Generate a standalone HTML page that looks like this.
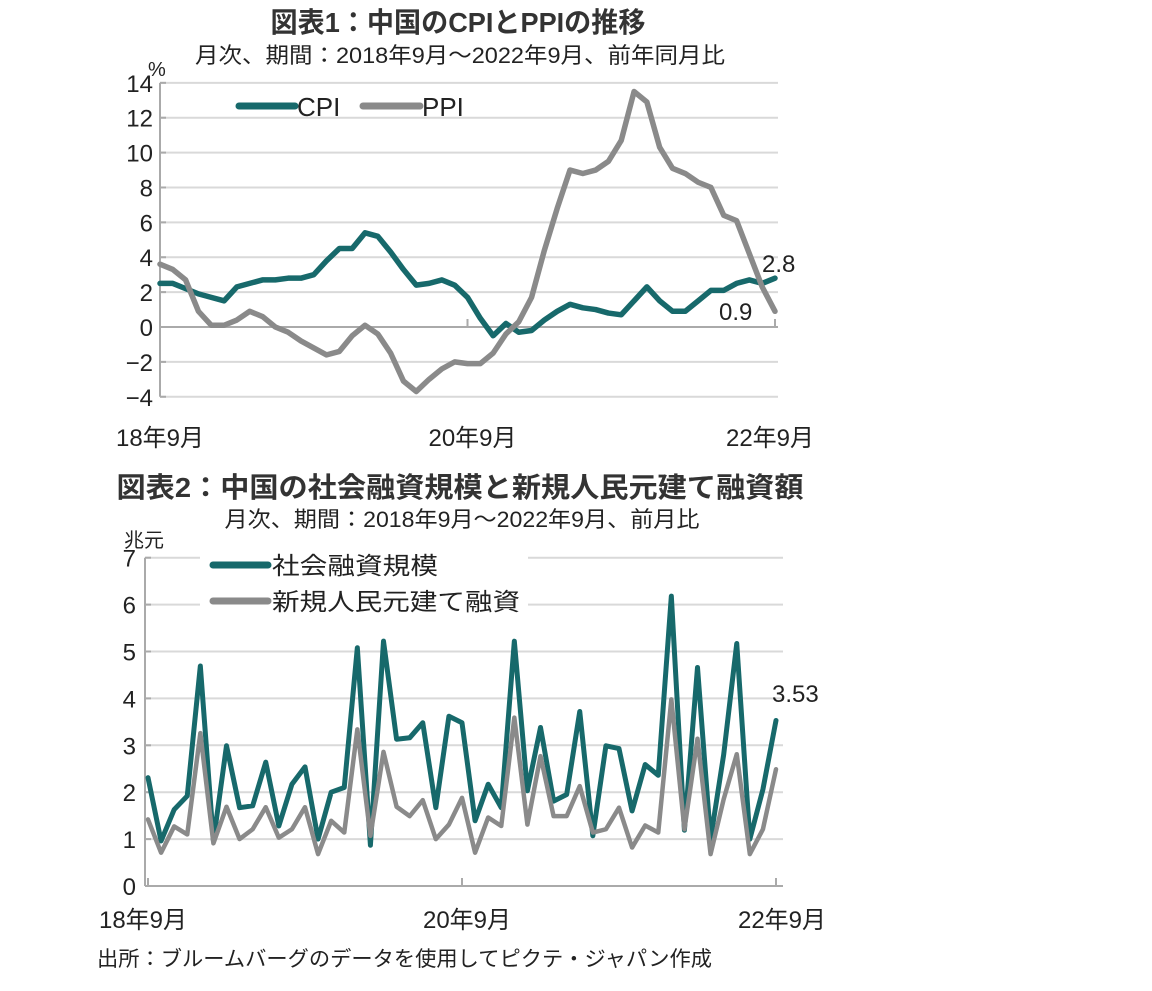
<!DOCTYPE html>
<html><head><meta charset="utf-8"><style>
html,body{margin:0;padding:0;background:#fff;}
svg{display:block;font-family:"Liberation Sans Narrow","Liberation Sans","Noto Sans CJK JP",sans-serif;}
</style></head><body>
<svg id="c" width="1152" height="991" viewBox="0 0 1152 991">
<text x="458" y="32" font-size="28" font-weight="bold" fill="#333" text-anchor="middle" textLength="375" lengthAdjust="spacingAndGlyphs">図表1：中国のCPIとPPIの推移</text>
<text x="460" y="63" font-size="22" fill="#222" text-anchor="middle" textLength="530" lengthAdjust="spacingAndGlyphs">月次、期間：2018年9月～2022年9月、前年同月比</text>
<text x="148" y="76" font-size="20" fill="#222">%</text>
<g id="g1"></g>
<text x="460" y="497" font-size="28" font-weight="bold" fill="#333" text-anchor="middle" textLength="687" lengthAdjust="spacingAndGlyphs">図表2：中国の社会融資規模と新規人民元建て融資額</text>
<text x="462" y="527" font-size="22" fill="#222" text-anchor="middle" textLength="475" lengthAdjust="spacingAndGlyphs">月次、期間：2018年9月～2022年9月、前月比</text>
<text x="124" y="547" font-size="20" fill="#222">兆元</text>
<g id="g2"></g>
<text x="97" y="966" font-size="21" fill="#222" textLength="615" lengthAdjust="spacingAndGlyphs">出所：ブルームバーグのデータを使用してピクテ・ジャパン作成</text>
</svg>
<script>
const cpi=[2.5,2.5,2.2,1.9,1.7,1.5,2.3,2.5,2.7,2.7,2.8,2.8,3.0,3.8,4.5,4.5,5.4,5.2,4.3,3.3,2.4,2.5,2.7,2.4,1.7,0.5,-0.5,0.2,-0.3,-0.2,0.4,0.9,1.3,1.1,1.0,0.8,0.7,1.5,2.3,1.5,0.9,0.9,1.5,2.1,2.1,2.5,2.7,2.5,2.8];
const ppi=[3.6,3.3,2.7,0.9,0.1,0.1,0.4,0.9,0.6,0.0,-0.3,-0.8,-1.2,-1.6,-1.4,-0.5,0.1,-0.4,-1.5,-3.1,-3.7,-3.0,-2.4,-2.0,-2.1,-2.1,-1.5,-0.4,0.3,1.7,4.4,6.8,9.0,8.8,9.0,9.5,10.7,13.5,12.9,10.3,9.1,8.8,8.3,8.0,6.4,6.1,4.2,2.3,0.9];
const tsf=[2.31,0.96,1.63,1.92,4.69,0.96,2.99,1.67,1.71,2.64,1.28,2.17,2.54,1.0,2.0,2.1,5.08,0.87,5.22,3.13,3.16,3.48,1.67,3.62,3.48,1.39,2.17,1.67,5.22,2.03,3.38,1.81,1.95,3.72,1.07,2.99,2.93,1.6,2.59,2.36,6.18,1.19,4.66,1.0,2.8,5.17,1.0,2.06,3.53];
const loans=[1.42,0.71,1.27,1.10,3.26,0.91,1.69,1.0,1.21,1.68,1.03,1.21,1.68,0.68,1.39,1.14,3.34,1.07,2.86,1.69,1.49,1.83,1.0,1.31,1.88,0.71,1.46,1.28,3.59,1.31,2.77,1.49,1.49,2.13,1.14,1.21,1.67,0.82,1.29,1.14,3.98,1.21,3.14,0.68,1.85,2.81,0.68,1.21,2.49];
const ticks1=[14,12,10,8,6,4,2,0,-2,-4];
const ticks2=[7,6,5,4,3,2,1,0];
const xLabels=["18年9月","20年9月","22年9月"];
const xLabelIdx=[0,24,48];
const NS="http://www.w3.org/2000/svg";
function mk(p,t,a){const e=document.createElementNS(NS,t);for(const k in a)e.setAttribute(k,a[k]);p.appendChild(e);return e;}
const TEAL="#17696b",GRAY="#8a8a8a",GRID="#d9d9d9";
// chart 1
const g1=document.getElementById('g1');
const x1=i=>160+i*(775-160)/48, y1=v=>327-v*17.44;
ticks1.forEach(t=>{
 const l=mk(g1,'line',{x1:160,x2:778,y1:y1(t),y2:y1(t),stroke:t===0?"#aaa":GRID,'stroke-width':2});
 
 
 const tx=mk(g1,'text',{x:153,y:y1(t)+9,'font-size':24,fill:'#222','text-anchor':'end'});tx.textContent=t<0?'−'+(-t):t;
 
 
 mk(g1,'line',{x1:160,x2:166,y1:y1(t),y2:y1(t),stroke:'#aaa','stroke-width':2});
});
mk(g1,'line',{x1:160,x2:160,y1:y1(14),y2:y1(-4),stroke:'#aaa','stroke-width':2});
xLabelIdx.forEach((i,k)=>{
 mk(g1,'line',{x1:x1(i),x2:x1(i),y1:y1(0),y2:y1(0)-8,stroke:'#aaa','stroke-width':2});
 const tx=mk(g1,'text',{x:x1(i)+(k==0?0:k==2?-5:5),y:446,'font-size':24,fill:'#222','text-anchor':'middle'});tx.textContent=xLabels[k];
 
 
});
function line(g,data,xf,yf,col,w,name){const p=mk(g,'polyline',{points:data.map((v,i)=>xf(i)+','+yf(v)).join(' '),fill:'none',stroke:col,'stroke-width':w,'stroke-linejoin':'round','stroke-linecap':'round'});
 
 }
line(g1,cpi,x1,y1,TEAL,5.5,'cpi-line');
line(g1,ppi,x1,y1,GRAY,5.5,'ppi-line');
mk(g1,'line',{x1:239,x2:295,y1:106,y2:106,stroke:TEAL,'stroke-width':7,'stroke-linecap':'round'});
let t=mk(g1,'text',{x:297,y:116,'font-size':26,fill:'#222'});t.textContent='CPI';


mk(g1,'line',{x1:363,x2:420,y1:106,y2:106,stroke:GRAY,'stroke-width':7,'stroke-linecap':'round'});
t=mk(g1,'text',{x:422,y:116,'font-size':26,fill:'#222'});t.textContent='PPI';


t=mk(g1,'text',{x:762,y:272,'font-size':24,fill:'#222'});t.textContent=cpi[48].toFixed(1);


t=mk(g1,'text',{x:719,y:320,'font-size':24,fill:'#222'});t.textContent=ppi[48].toFixed(1);


// chart 2
const g2=document.getElementById('g2');
const x2=i=>148+i*(776-148)/48, y2=v=>886-v*46.9;
ticks2.forEach(tk=>{
 if(tk>0){const l=mk(g2,'line',{x1:146,x2:783,y1:y2(tk),y2:y2(tk),stroke:GRID,'stroke-width':2});
 
 }
 const tx=mk(g2,'text',{x:136,y:y2(tk)+9,'font-size':24,fill:'#222','text-anchor':'end'});tx.textContent=tk;
 
 
 mk(g2,'line',{x1:145,x2:151,y1:y2(tk),y2:y2(tk),stroke:'#aaa','stroke-width':2});
});
mk(g2,'line',{x1:145,x2:145,y1:y2(7),y2:y2(0),stroke:'#aaa','stroke-width':2});
mk(g2,'line',{x1:145,x2:783,y1:y2(0),y2:y2(0),stroke:'#aaa','stroke-width':2});
xLabelIdx.forEach((i,k)=>{
 mk(g2,'line',{x1:x2(i),x2:x2(i),y1:y2(0),y2:y2(0)-8,stroke:'#aaa','stroke-width':2});
 const tx=mk(g2,'text',{x:x2(i)+(k==0?-5:k==2?6:5),y:928,'font-size':24,fill:'#222','text-anchor':'middle'});tx.textContent=xLabels[k];
 
 
});
line(g2,tsf,x2,y2,TEAL,5,'tsf-line');
line(g2,loans,x2,y2,GRAY,4.5,'loans-line');
mk(g2,'rect',{x:200,y:548,width:328,height:70,fill:'#fff'});
mk(g2,'line',{x1:213,x2:268,y1:565,y2:565,stroke:TEAL,'stroke-width':7,'stroke-linecap':'round'});
t=mk(g2,'text',{x:272,y:574,'font-size':24,fill:'#222',textLength:166,lengthAdjust:'spacingAndGlyphs'});t.textContent='社会融資規模';


mk(g2,'line',{x1:213,x2:268,y1:601,y2:601,stroke:GRAY,'stroke-width':7,'stroke-linecap':'round'});
t=mk(g2,'text',{x:272,y:610,'font-size':24,fill:'#222',textLength:248,lengthAdjust:'spacingAndGlyphs'});t.textContent='新規人民元建て融資';


t=mk(g2,'text',{x:772,y:702,'font-size':24,fill:'#222'});t.textContent=tsf[48].toFixed(2);


</script>
</body></html>
